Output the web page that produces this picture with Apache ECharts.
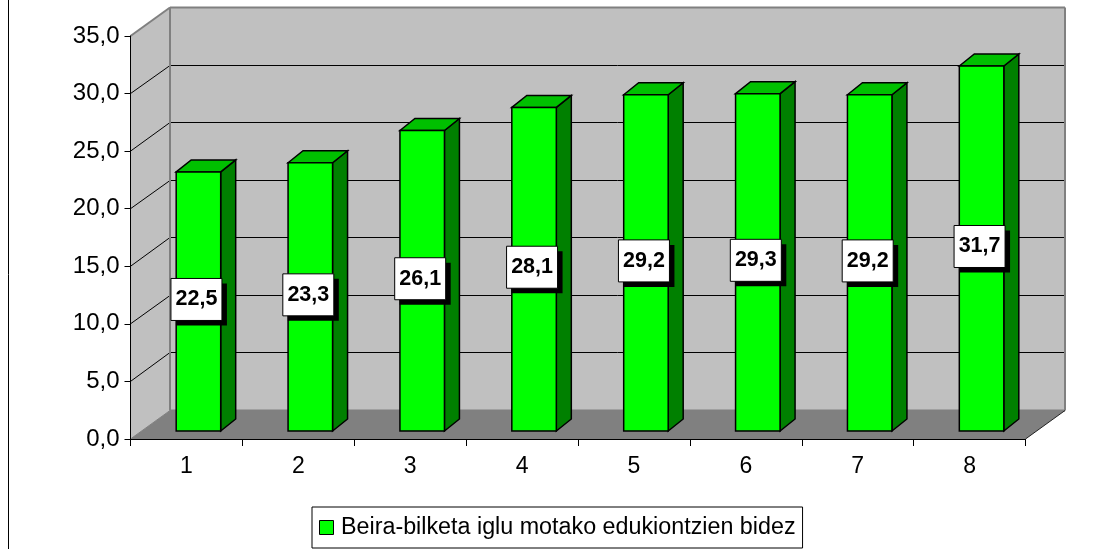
<!DOCTYPE html>
<html>
<head>
<meta charset="utf-8">
<style>html,body{margin:0;padding:0;background:#fff}#c{width:1113px;height:549px}</style>
<script src="https://cdn.jsdelivr.net/npm/echarts@6/dist/echarts.min.js"></script>
</head>
<body>
<div id="c"></div>
<script>
const categories = ['1','2','3','4','5','6','7','8'];
const values = [22.5,23.3,26.1,28.1,29.2,29.3,29.2,31.7];
const yTicks = [0,5,10,15,20,25,30,35];
const seriesName = 'Beira-bilketa iglu motako edukiontzien bidez';

const FONT = '"Liberation Sans", Arial, sans-serif';
const WALL = {dx: 39.5, dy: -28.5};
const BAR = {width: 44.5, dx: 15, dy: -12, offX: 12, offY: -8};
const LABEL = {w: 51, h: 42, offX: -2, offY: -2, shadow: 5};

const chart = echarts.init(document.getElementById('c'), null, {renderer: 'canvas'});
const comma = v => v.toFixed(1).replace('.', ',');

function renderWalls(params, api) {
  const cs = params.coordSys;
  const L = cs.x, R = cs.x + cs.width, B = cs.y + cs.height;
  const dx = WALL.dx, dy = WALL.dy;
  const T = api.coord([0, 35])[1];
  const children = [];
  const poly = (pts, fill) => ({type: 'polygon', shape: {points: pts}, style: {fill: fill, stroke: null}});
  const line = (a, b, c, w) => ({type: 'line', shape: {x1: a[0], y1: a[1], x2: b[0], y2: b[1]}, style: {stroke: c, lineWidth: w}});
  children.push(poly([[L+dx,T+dy],[R+dx,T+dy],[R+dx,B+dy],[L+dx,B+dy]], '#c0c0c0'));
  children.push(poly([[L,T],[L+dx,T+dy],[L+dx,B+dy],[L,B]], '#c0c0c0'));
  children.push(poly([[L,B],[L+dx,B+dy],[R+dx,B+dy],[R,B]], '#808080'));
  yTicks.forEach(v => {
    if (v === 0 || v === 35) return;
    const y = api.coord([0, v])[1];
    const by = Math.floor(y + dy) + 0.5;
    children.push(line([L, y], [L+dx, by], '#000', 1));
    children.push(line([L+dx, by], [R+dx, by], '#000', 1));
  });
  children.push(line([L, T], [L+dx, T+dy], '#808080', 2));
  children.push(line([L+dx, T+dy], [R+dx, T+dy], '#808080', 2));
  children.push(line([L+dx, T+dy], [L+dx, B+dy], '#808080', 2));
  children.push(line([R+dx, T+dy], [R+dx, B+dy], '#808080', 2));
  children.push(line([L+dx, B+dy], [R+dx, B+dy], '#808080', 2));
  children.push(line([L, B], [L+dx, B+dy], '#808080', 1));
  children.push(line([R, B], [R+dx, B+dy], '#222', 1));
  return {type: 'group', children: children};
}

function renderBar(params, api) {
  const p0 = api.coord([api.value(0), 0]);
  const p1 = api.coord([api.value(0), api.value(1)]);
  const x = p0[0] + BAR.offX - BAR.width / 2, w = BAR.width;
  const yb = p0[1] + BAR.offY, yt = p1[1] + BAR.offY;
  const sty = fill => ({fill: fill, stroke: '#000', lineWidth: 1.5, lineJoin: 'miter'});
  return {type: 'group', children: [
    {type: 'polygon', shape: {points: [[x+w,yt],[x+w+BAR.dx,yt+BAR.dy],[x+w+BAR.dx,yb+BAR.dy],[x+w,yb]]}, style: sty('#008000')},
    {type: 'polygon', shape: {points: [[x,yt],[x+BAR.dx,yt+BAR.dy],[x+w+BAR.dx,yt+BAR.dy],[x+w,yt]]}, style: sty('#00c000')},
    {type: 'rect', shape: {x: x, y: yt, width: w, height: yb - yt}, style: sty('#00ff00')}
  ]};
}

function renderLabel(params, api) {
  const val = api.value(1);
  const p = api.coord([api.value(0), val / 2]);
  const cx = p[0] + BAR.offX + LABEL.offX, cy = p[1] + BAR.offY + LABEL.offY;
  const x = cx - LABEL.w / 2, y = cy - LABEL.h / 2;
  return {type: 'group', children: [
    {type: 'rect', shape: {x: x + LABEL.shadow, y: y + LABEL.shadow, width: LABEL.w, height: LABEL.h}, style: {fill: '#000'}},
    {type: 'rect', shape: {x: x, y: y, width: LABEL.w, height: LABEL.h}, style: {fill: '#fff', stroke: '#000', lineWidth: 1}},
    {type: 'text', x: cx, y: cy, style: {text: comma(val), fill: '#000', font: 'bold 21.5px ' + FONT, textAlign: 'center', textVerticalAlign: 'middle'}}
  ]};
}

const barData = values.map((v, i) => [i, v]);

chart.setOption({
  animation: false,
  backgroundColor: '#fff',
  grid: {left: 130.5, top: 36, width: 895, height: 403, containLabel: false},
  xAxis: {
    type: 'category', data: categories, z: 10,
    axisLine: {show: true, lineStyle: {color: '#000', width: 1}},
    axisTick: {show: true, alignWithLabel: false, length: 7, lineStyle: {color: '#000', width: 1}},
    axisLabel: {color: '#000', fontFamily: FONT, fontSize: 23, margin: 16},
    splitLine: {show: false}
  },
  yAxis: {
    type: 'value', min: 0, max: 35, interval: 5, z: 10,
    axisLine: {show: true, lineStyle: {color: '#000', width: 1}},
    axisTick: {show: true, length: 6, lineStyle: {color: '#000', width: 1}},
    axisLabel: {color: '#000', fontFamily: FONT, fontSize: 24, margin: 11, padding: [2, 0, 0, 0], formatter: v => comma(v)},
    splitLine: {show: false}
  },
  legend: {
    data: [seriesName], left: 312, top: 507,
    backgroundColor: '#fff', borderColor: '#000', borderWidth: 1,
    padding: [9, 7, 9, 7],
    itemWidth: 14, itemHeight: 14, itemGap: 6, icon: 'rect',
    textStyle: {color: '#000', fontFamily: FONT, fontSize: 23.3, padding: [0, 0, 0, 2.5]},
    itemStyle: {color: '#00ff00', borderColor: '#000', borderWidth: 1}
  },
  series: [
    {type: 'custom', name: 'walls', silent: true, z: 1, clip: false, data: [[0, 0]], renderItem: renderWalls, encode: {x: 0, y: 1}},
    {type: 'custom', name: seriesName, z: 2, clip: false, data: barData, renderItem: renderBar, encode: {x: 0, y: 1}, itemStyle: {color: '#00ff00'}},
    {type: 'custom', name: 'labels', z: 3, clip: false, data: barData, renderItem: renderLabel, encode: {x: 0, y: 1}}
  ],
  graphic: [{type: 'line', shape: {x1: 8.5, y1: 0, x2: 8.5, y2: 549}, style: {stroke: '#000', lineWidth: 1}}]
});
</script>
</body>
</html>
